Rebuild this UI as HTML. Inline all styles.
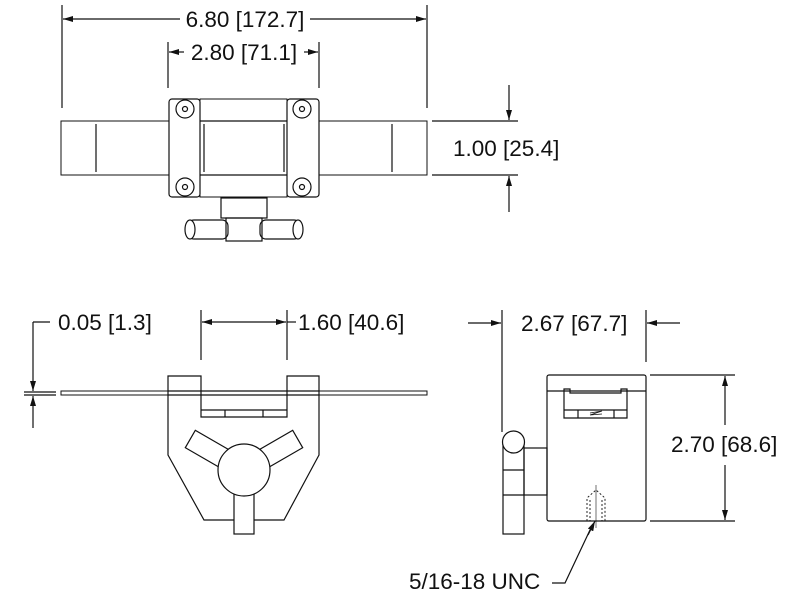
<!DOCTYPE html>
<html><head><style>
html,body{margin:0;padding:0;background:#fff;}
svg{display:block;}
text{font-family:"Liberation Sans",sans-serif;font-size:22.5px;fill:#111;}
</style></head><body>
<svg width="800" height="600" viewBox="0 0 800 600" xmlns="http://www.w3.org/2000/svg">
<defs>
<marker id="a" markerWidth="10" markerHeight="6" refX="10" refY="3" orient="auto" markerUnits="userSpaceOnUse"><path d="M0,0 L10,3 L0,6 Z" fill="#111"/></marker>
</defs>
<g stroke="#111" stroke-width="1.2" fill="none">
<line x1="62" y1="5" x2="62" y2="108"/><line x1="427" y1="5" x2="427" y2="108"/>
<line x1="180" y1="19" x2="63" y2="19" marker-end="url(#a)"/>
<line x1="310" y1="19" x2="426" y2="19" marker-end="url(#a)"/>
<line x1="168" y1="42" x2="168" y2="88"/><line x1="319" y1="42" x2="319" y2="88"/>
<line x1="184" y1="52" x2="169" y2="52" marker-end="url(#a)"/>
<line x1="304" y1="52" x2="318" y2="52" marker-end="url(#a)"/>
<line x1="432" y1="121" x2="518" y2="121"/><line x1="432" y1="175" x2="518" y2="175"/>
<line x1="509" y1="85" x2="509" y2="120" marker-end="url(#a)"/>
<line x1="509" y1="212" x2="509" y2="176" marker-end="url(#a)"/>
<rect x="61" y="121" width="366" height="54" stroke-width="1"/>
<line x1="96" y1="124" x2="96" y2="172"/><line x1="392" y1="124" x2="392" y2="172"/>
<rect x="200" y="99" width="87" height="98" fill="#fff" stroke-width="1"/>
<line x1="200" y1="121" x2="287" y2="121"/><line x1="200" y1="175" x2="287" y2="175"/>
<line x1="204" y1="124" x2="204" y2="172"/><line x1="284" y1="124" x2="284" y2="172"/>
<rect x="169" y="99" width="31" height="98" rx="3" fill="#fff"/>
<rect x="287" y="99" width="32" height="98" rx="3" fill="#fff"/>
<circle cx="185" cy="109" r="9"/><circle cx="185" cy="109" r="2.5"/>
<circle cx="302" cy="109" r="9"/><circle cx="302" cy="109" r="2.5"/>
<circle cx="185" cy="187" r="9"/><circle cx="185" cy="187" r="2.5"/>
<circle cx="302" cy="187" r="9"/><circle cx="302" cy="187" r="2.5"/>
<rect x="221" y="198" width="46" height="20"/>
<rect x="226" y="218" width="36" height="23"/>
<rect x="188" y="220" width="40" height="19" rx="6"/>
<rect x="260" y="220" width="40" height="19" rx="6"/>
<ellipse cx="190" cy="229.5" rx="5" ry="9.5" fill="#fff"/>
<ellipse cx="298" cy="229.5" rx="5" ry="9.5" fill="#fff"/>
<line x1="33" y1="322" x2="50" y2="322"/>
<line x1="33" y1="322" x2="33" y2="391" marker-end="url(#a)"/>
<line x1="33" y1="428" x2="33" y2="396" marker-end="url(#a)"/>
<line x1="24" y1="392" x2="56" y2="392"/><line x1="24" y1="395" x2="56" y2="395"/>
<line x1="201" y1="310" x2="201" y2="360"/><line x1="287" y1="310" x2="287" y2="360"/>
<line x1="225" y1="322" x2="202" y2="322" marker-end="url(#a)"/>
<line x1="263" y1="322" x2="286" y2="322" marker-end="url(#a)"/>
<line x1="263" y1="322" x2="225" y2="322"/>
<line x1="287" y1="322" x2="296" y2="322"/>
<rect x="61" y="391" width="366" height="4" stroke-width="1"/>
<path d="M168,376 H201 V417 H287 V376 H319 V455 L284,520 H204 L168,455 Z" fill="#fff"/>
<line x1="201" y1="391" x2="287" y2="391"/><line x1="201" y1="395" x2="287" y2="395"/>
<line x1="201" y1="410" x2="287" y2="410"/>
<line x1="225" y1="410" x2="225" y2="417"/><line x1="263" y1="410" x2="263" y2="417"/>
<line x1="168" y1="391" x2="201" y2="391"/><line x1="168" y1="395" x2="201" y2="395"/>
<line x1="287" y1="391" x2="319" y2="391"/><line x1="287" y1="395" x2="319" y2="395"/>
<g transform="translate(244,470)">
<rect x="-10" y="0" width="20" height="64" fill="#fff"/>
<rect x="-10" y="0" width="20" height="62" fill="#fff" transform="rotate(120)"/>
<rect x="-10" y="0" width="20" height="62" fill="#fff" transform="rotate(240)"/>
<circle r="26" fill="#fff"/>
</g>
<line x1="502" y1="310" x2="502" y2="432"/><line x1="646" y1="310" x2="646" y2="362"/>
<line x1="468" y1="323" x2="501" y2="323" marker-end="url(#a)"/>
<line x1="680" y1="323" x2="647" y2="323" marker-end="url(#a)"/>
<line x1="650" y1="375" x2="735" y2="375"/><line x1="650" y1="521" x2="735" y2="521"/>
<line x1="725" y1="425" x2="725" y2="376" marker-end="url(#a)"/>
<line x1="725" y1="465" x2="725" y2="520" marker-end="url(#a)"/>
<rect x="547" y="375" width="99" height="146" rx="2" fill="#fff"/>
<line x1="547" y1="391" x2="646" y2="391"/>
<path d="M564,389 H570 V393 H621 V389 H627 V418 H564 Z"/>
<line x1="564" y1="410" x2="627" y2="410"/>
<line x1="578" y1="410" x2="578" y2="418"/><line x1="614" y1="410" x2="614" y2="418"/>
<path d="M590,413 L602,411 L590,415 L602,414" stroke-width="0.8"/>
<rect x="524" y="448" width="23" height="47"/>
<rect x="503" y="445" width="21" height="89"/>
<line x1="503" y1="470" x2="524" y2="470"/>
<line x1="503" y1="495" x2="524" y2="495"/>
<circle cx="513.5" cy="442" r="11" fill="#fff"/>
<g stroke-dasharray="2,2" stroke-width="0.9">
<path d="M587,521 V498 L596,490 L605,498 V521"/>
<line x1="590" y1="500" x2="590" y2="521"/><line x1="602" y1="500" x2="602" y2="521"/>
</g>
<line x1="596" y1="485" x2="596" y2="528" stroke-width="0.6"/>
<polyline points="552,583 565,583 590,530"/>
<line x1="588" y1="535" x2="595" y2="521" marker-end="url(#a)"/>
</g>
<rect x="666" y="426" width="124" height="36" fill="#fff"/>
<text x="245" y="27" text-anchor="middle">6.80 [172.7]</text>
<text x="244" y="60" text-anchor="middle">2.80 [71.1]</text>
<text x="453" y="156">1.00 [25.4]</text>
<text x="58" y="330">0.05 [1.3]</text>
<text x="298" y="330">1.60 [40.6]</text>
<text x="521" y="331">2.67 [67.7]</text>
<text x="671" y="452">2.70 [68.6]</text>
<text x="409" y="589">5/16-18 UNC</text>
</svg>
</body></html>
